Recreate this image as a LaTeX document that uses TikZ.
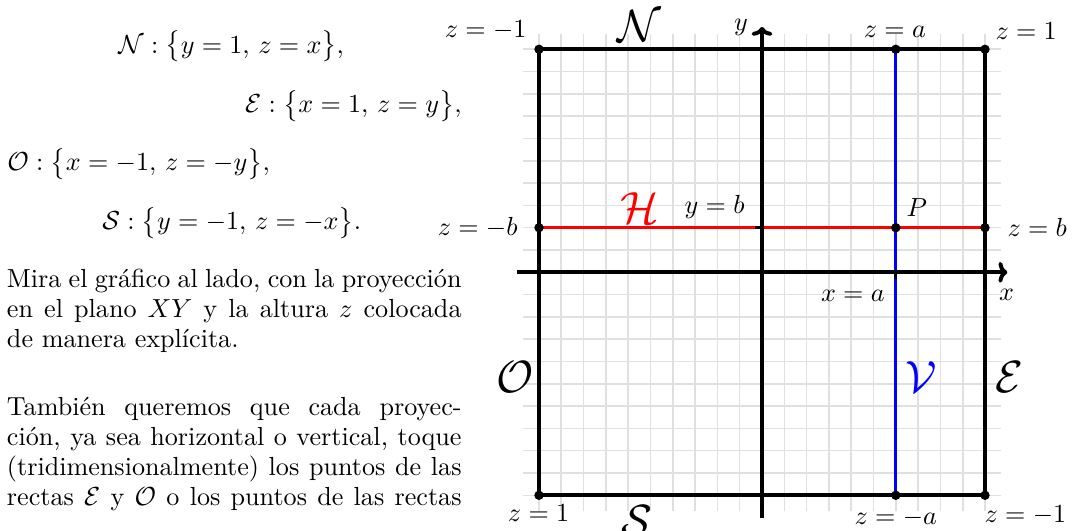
\documentclass[tikz,border=0pt]{standalone}
\usetikzlibrary{arrows.meta}
\begin{document}
\begin{tikzpicture}[x=3cm,y=3cm,
  gridline/.style={draw=black!12, line width=0.6pt},
  frame/.style={line width=1.5pt, draw=black},
  axis/.style={line width=1.5pt, draw=black, -{To[length=3.4pt,width=8pt]}},
  hline/.style={line width=1.2pt, draw=red},
  vline/.style={line width=1.2pt, draw=blue},
  tick/.style={line width=1.2pt, draw=black},
  dot/.style={circle, fill=black, inner sep=0pt, minimum size=3.6pt},
  lab/.style={inner sep=0pt},
  big/.style={inner sep=0pt, font=\LARGE}]
\useasboundingbox (-3.417,-1.156) rectangle (1.408,1.221);

% grid
\draw[gridline, step=0.1] (-1.07,-1.07) grid (1.07,1.07);

% points
\coordinate (tl) at (-1,1);
\coordinate (tr) at (1,1);
\coordinate (br) at (1,-1);
\coordinate (bl) at (-1,-1);
\coordinate (hl) at (-1,0.2);
\coordinate (hr) at (1,0.2);
\coordinate (vt) at (0.6,1);
\coordinate (vb) at (0.6,-1);
\coordinate (P) at (0.6,0.2);
\coordinate (xs) at (-1.1,0);
\coordinate (xe) at (1.1,0);
\coordinate (ys) at (0,-1.1);
\coordinate (ye) at (0,1.1);
\coordinate (ytick) at (0,0.2);
\coordinate (ytickend) at (-0.03,0.2);
\coordinate (xtick) at (0.6,0);
\coordinate (xtickend) at (0.6,-0.03);

\draw[hline] (hl) -- (hr);
\draw[vline] (vt) -- (vb);
\draw[frame] (tl) -- (tr) -- (br) -- (bl) -- cycle;
\draw[axis] (xs) -- (xe);
\draw[axis] (ys) -- (ye);
\draw[tick] (ytick) -- (ytickend);
\draw[tick] (xtick) -- (xtickend);
\foreach \p in {tl,tr,br,bl,hl,hr,vt,vb,P} \node[dot] at (\p) {};

% labels
\node[lab, anchor=base east] (zTL) at (-1.054,1.055) {$z=-1$};
\node[big] (Nlab) at (-0.552,1.105) {$\mathcal{N}$};
\node[lab, anchor=base] (ylab) at (-0.094,1.086) {$y$};
\node[lab, anchor=base] (zalab) at (0.596,1.055) {$z=a$};
\node[lab, anchor=base west] (zTR) at (1.045,1.042) {$z=1$};
\node[lab, anchor=east] (zmblab) at (-1.094,0.2) {$z=-b$};
\node[big, text=red] (Hlab) at (-0.547,0.288) {$\mathcal{H}$};
\node[lab, anchor=base east] (yblab) at (-0.076,0.264) {$y=b$};
\node[lab, anchor=base west] (Plab) at (0.646,0.249) {$P$};
\node[lab, anchor=west] (zblab) at (1.099,0.2) {$z=b$};
\node[lab, anchor=base east] (xalab) at (0.552,-0.129) {$x=a$};
\node[lab, anchor=base] (xlab) at (1.097,-0.125) {$x$};
\node[big] (Olab) at (-1.108,-0.469) {$\mathcal{O}$};
\node[big, text=blue] (Vlab) at (0.713,-0.469) {$\mathcal{V}$};
\node[big] (Elab) at (1.108,-0.469) {$\mathcal{E}$};
\node[lab, anchor=base] (zBL) at (-1.002,-1.118) {$z=1$};
\node[big] (Slab) at (-0.561,-1.117) {$\mathcal{S}$};
\node[lab, anchor=base] (zmalab) at (0.6,-1.133) {$z=-a$};
\node[lab, anchor=base west] (zBR) at (0.996,-1.121) {$z=-1$};

% left text
\node[lab, anchor=base west] (eqN) at (-2.888,0.983) {$\mathcal{N}:\bigl\{y=1,\,z=x\bigr\},$};
\node[lab, anchor=base east] (eqE) at (-1.345,0.716) {$\mathcal{E}:\bigl\{x=1,\,z=y\bigr\},$};
\node[lab, anchor=base west] (eqO) at (-3.386,0.456) {$\mathcal{O}:\bigl\{x=-1,\,z=-y\bigr\},$};
\node[lab, anchor=base west] (eqS) at (-2.960,0.190) {$\mathcal{S}:\bigl\{y=-1,\,z=-x\bigr\}.$};

\node[lab, anchor=base west] (par1) at (-3.388,-0.0673) {\parbox[t]{174pt}{\baselineskip=11.6pt
\hbox to 174pt{Mira el gráfico al lado, con la proyección}\par
\hbox to 174pt{en el plano $XY$ y la altura $z$ colocada}\par
\hbox{de manera explícita.}}};

\node[lab, anchor=base west] (par2) at (-3.388,-0.640) {\parbox[t]{174pt}{\baselineskip=11.5pt
\hbox to 174pt{También queremos que cada proyec-}\par
\hbox to 174pt{ción, ya sea horizontal o vertical, toque}\par
\hbox to 174pt{(tridimensionalmente) los puntos de las}\par
\hbox to 174pt{rectas $\mathcal{E}$ y $\mathcal{O}$ o los puntos de las rectas}}};
\end{tikzpicture}
\end{document}
